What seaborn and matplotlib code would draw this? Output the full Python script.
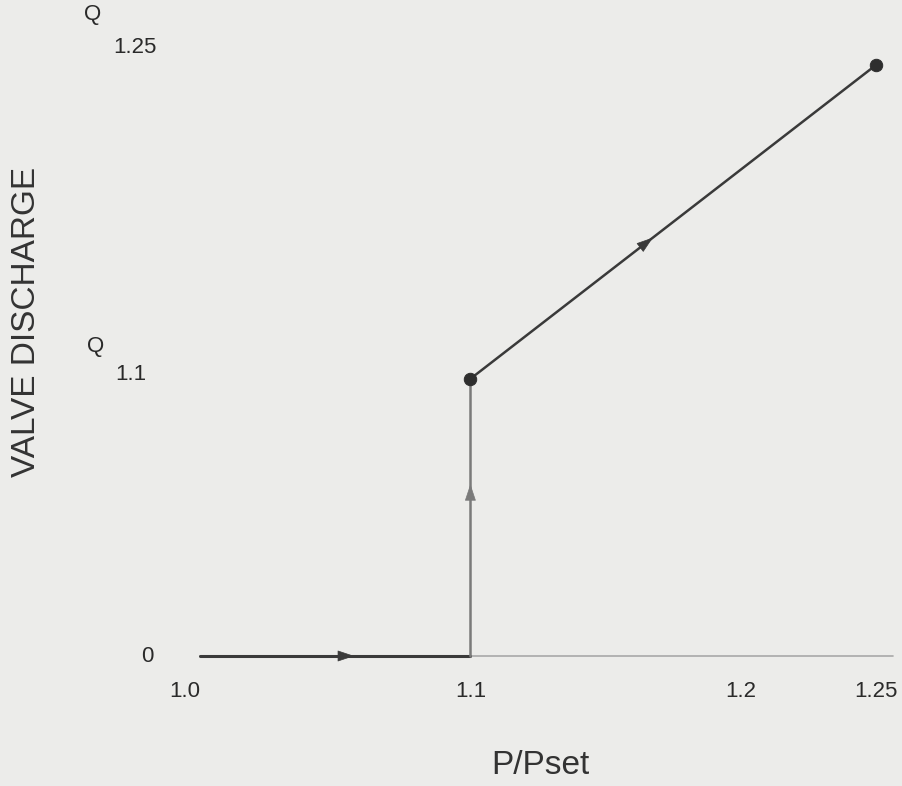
import numpy as np
import pandas as pd
import matplotlib
matplotlib.use("Agg")
import matplotlib.pyplot as plt
import seaborn as sns

# ---- data ----
pressure_ratio = [1.0, 1.1, 1.1, 1.25]          # P/Pset
discharge = [0.0, 0.0, 0.469, 1.0]              # relative valve discharge
dot_x = [1.1, 1.25]
dot_y = [0.469, 1.0]
x_ticks = [1.0, 1.1, 1.2, 1.25]
x_tick_labels = ["1.0", "1.1", "1.2", "1.25"]
y_ticks = [0.0, 0.469, 1.0]
y_tick_labels = ["0", "1.1", "1.25"]
arrow_fracs = [0.57, 0.62, 0.45]                # where arrows sit along each segment

sns.set_theme(style="white")
plt.rcParams['font.family'] = ['Liberation Sans', 'DejaVu Sans']

bg = "#ececea"
fig = plt.figure(figsize=(9.03, 7.86), dpi=100, facecolor=bg)
L, R = 200 / 903, 893 / 903
B, T = (786 - 656) / 786, (786 - 40) / 786
ax = fig.add_axes([L, B, R - L, T - B])
ax.set_facecolor(bg)

px_per_unit = 2704.0
ax.set_xlim(1.0, 1.0 + 693 / px_per_unit)
ax.set_ylim(0, 616 / 591)

# baseline (x axis) spanning the axes width
ax.plot([0, 1], [0, 0], color="#a8a8a8", lw=1.2, zorder=1, clip_on=False,
        transform=ax.get_yaxis_transform())

df = pd.DataFrame({"x": pressure_ratio, "y": discharge})
# main path: horizontal + diagonal dark, vertical lighter
sns.lineplot(data=df.iloc[0:2], x="x", y="y", sort=False, estimator=None,
             color="#3a3a3a", linewidth=2.2, ax=ax, zorder=3, clip_on=False)
sns.lineplot(data=df.iloc[1:3], x="x", y="y", sort=False, estimator=None,
             color="#7a7a7a", linewidth=1.8, ax=ax, zorder=3, clip_on=False)
sns.lineplot(data=df.iloc[2:4], x="x", y="y", sort=False, estimator=None,
             color="#3a3a3a", linewidth=1.8, ax=ax, zorder=3, clip_on=False)

# endpoint dots
sns.scatterplot(x=dot_x, y=dot_y, color="#2e2e2e", s=80, edgecolor="#2e2e2e",
                ax=ax, zorder=4, clip_on=False)

# arrows along segments
seg_cols = ["#3a3a3a", "#7a7a7a", "#3a3a3a"]
for i, f in enumerate(arrow_fracs):
    x0, y0 = pressure_ratio[i], discharge[i]
    x1, y1 = pressure_ratio[i + 1], discharge[i + 1]
    xm, ym = x0 + f * (x1 - x0), y0 + f * (y1 - y0)
    xs, ys = x0 + (f - 0.01) * (x1 - x0), y0 + (f - 0.01) * (y1 - y0)
    ax.annotate("", xy=(xm, ym), xytext=(xs, ys),
                arrowprops=dict(arrowstyle="-|>,head_length=0.9,head_width=0.3",
                                color=seg_cols[i], lw=0.5, shrinkA=0, shrinkB=0),
                zorder=5, annotation_clip=False)

# x ticks
tick_col = "#2a2a2a"
ax.set_xticks(x_ticks)
ax.set_xticklabels(x_tick_labels, fontsize=16, color=tick_col)
ax.get_xticklabels()[0].set_ha("right")
ax.tick_params(axis="x", length=0, pad=18)
ax.set_yticks([])

# y labels (drawn as text to mimic the Q subscript layout)
yt = ax.get_yaxis_transform()
ax.text(-0.076, y_ticks[0], y_tick_labels[0], transform=yt,
        fontsize=16, color=tick_col, ha="center", va="center")
ax.text(-0.151, y_ticks[1] + 0.054, "Q", transform=yt,
        fontsize=16, color=tick_col, ha="center", va="center")
ax.text(-0.122, y_ticks[1] + 0.008, y_tick_labels[1], transform=yt,
        fontsize=16, color=tick_col, ha="left", va="center")
ax.text(-0.155, y_ticks[2] + 0.085, "Q", transform=yt,
        fontsize=16, color=tick_col, ha="center", va="center")
ax.text(-0.125, y_ticks[2] + 0.03, y_tick_labels[2], transform=yt,
        fontsize=16, color=tick_col, ha="left", va="center")

fig.text(27 / 903, 1 - 322 / 786, "VALVE DISCHARGE", rotation=90, fontsize=24,
         color="#333333", ha="center", va="center")
fig.text(540 / 903, 1 - 765 / 786, "P/Pset", fontsize=24, color="#333333",
         ha="center", va="center")

ax.set_xlabel("")
ax.set_ylabel("")
for s in ax.spines.values():
    s.set_visible(False)

fig.savefig("out.png", dpi=100, facecolor=bg)
